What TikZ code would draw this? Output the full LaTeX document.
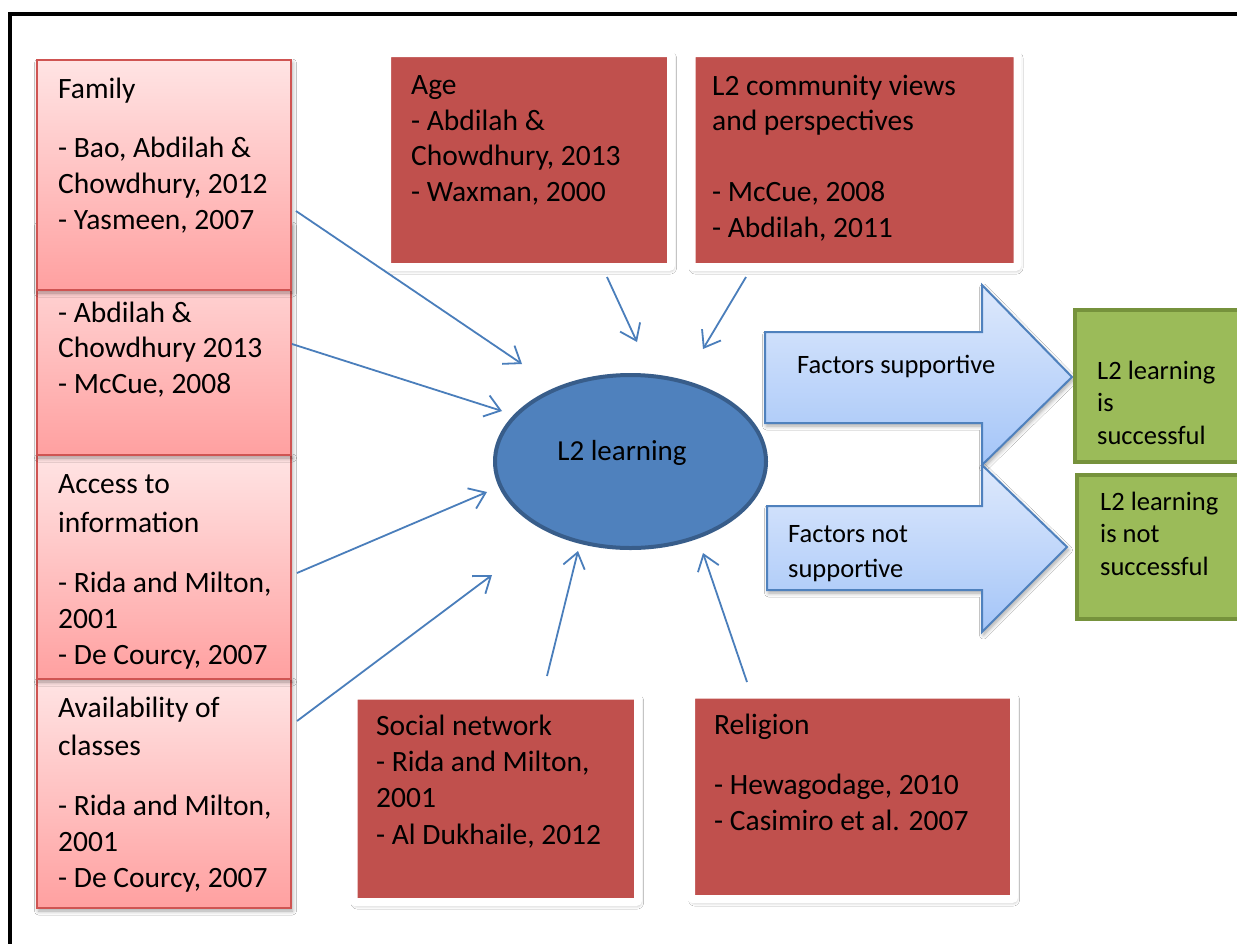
\documentclass[tikz,border=0pt]{standalone}
\usepackage{fontspec}
\setmainfont{Carlito}
\usetikzlibrary{arrows.meta,shadows.blur,shapes.geometric}

\definecolor{pinkTop}{RGB}{255,228,228}
\definecolor{pinkBot}{RGB}{255,160,160}
\definecolor{pinkEdge}{RGB}{207,84,82}
\definecolor{brick}{RGB}{192,80,77}
\definecolor{steel}{RGB}{79,129,189}
\definecolor{steelDark}{RGB}{56,93,138}
\definecolor{link}{RGB}{74,126,187}
\definecolor{skyTop}{RGB}{222,233,252}
\definecolor{skyBot}{RGB}{164,197,248}
\definecolor{olive}{RGB}{155,187,89}
\definecolor{oliveDark}{RGB}{118,146,60}

\begin{document}
\begin{tikzpicture}[x=1pt,y=-1pt,
  softshadow/.style={blur shadow={shadow xshift=1.5pt,shadow yshift=-3pt,
      shadow blur radius=4pt,shadow blur steps=6,shadow opacity=35}},
  pinkbox/.style={rectangle,inner sep=0pt,draw=pinkEdge,line width=1.6pt,
      top color=pinkTop,bottom color=pinkBot,minimum width=254pt,softshadow},
  brickbox/.style={rectangle,inner sep=0pt,draw=white,line width=8pt,
      fill=brick,rounded corners=2pt,softshadow},
  olivebox/.style={rectangle,inner sep=0pt,draw=oliveDark,line width=4pt,fill=olive},
  hubstyle/.style={ellipse,inner sep=0pt,draw=steelDark,line width=4pt,fill=steel,
      minimum width=271pt,minimum height=173pt},
  blockarrow/.style={draw=steel,line width=2pt,top color=skyTop,bottom color=skyBot,
      line join=miter,softshadow},
  % multi-line labels are anchored at the baseline of their last line
  txt/.style={anchor=base west,align=left,inner sep=0pt,
      font=\fontsize{26.5}{32.5}\selectfont},
  bigtxt/.style={txt,font=\fontsize{29.5}{36}\selectfont},
  conn/.style={draw=link,line width=1.8pt,
      -{Straight Barb[length=15pt,width=22pt]}},
]
% canvas and page frame
\useasboundingbox (0,0) rectangle (1237,943);
\fill[white] (0,0) rectangle (1237,943);
\clip (0,0) rectangle (1237,943);
\draw[line width=4.5pt] (10,980) -- (10,14) -- (1270,14);

% left column of factor boxes (later ones overlap earlier ones)
\node[pinkbox,minimum height=229pt] (avail) at (164,793.5) {};
\node[pinkbox,minimum height=224pt] (access) at (164,567) {};
\node[pinkbox,minimum height=232pt] (social2) at (164,339) {};
\node[pinkbox,minimum height=230pt] (family) at (164,175) {};

\node[bigtxt] (familyT) at (58,229)
  {Family\\[23pt]- Bao, Abdilah \&\\Chowdhury, 2012\\- Yasmeen, 2007};
\node[bigtxt,font=\fontsize{29.5}{35.5}\selectfont] (social2T) at (58,393)
  {- Abdilah \&\\Chowdhury 2013\\- McCue, 2008};
\node[bigtxt] (accessT) at (58,664)
  {Access to\\[3pt]information\\[24pt]- Rida and Milton,\\2001\\- De Courcy, 2007};
\node[bigtxt] (availT) at (58,887)
  {Availability of\\[2pt]classes\\[24pt]- Rida and Milton,\\2001\\- De Courcy, 2007};

% top and bottom factor boxes
\node[brickbox,minimum width=284pt,minimum height=214pt] (age) at (529,160) {};
\node[brickbox,minimum width=326pt,minimum height=214pt] (community) at (854.5,160) {};
\node[brickbox,minimum width=284.5pt,minimum height=206.5pt] (network) at (495.75,798.75) {};
\node[brickbox,minimum width=323pt,minimum height=204.5pt] (religion) at (852.5,796.75) {};

\node[bigtxt,font=\fontsize{29.5}{35.5}\selectfont] (ageT) at (411,201)
  {Age\\- Abdilah \&\\Chowdhury, 2013\\- Waxman, 2000};
\node[bigtxt,font=\fontsize{29.5}{35.5}\selectfont] (communityT) at (712,237)
  {L2 community views\\and perspectives\\[35.5pt]- McCue, 2008\\- Abdilah, 2011};
\node[bigtxt,font=\fontsize{29.5}{36.3}\selectfont] (networkT) at (376,844)
  {Social network\\- Rida and Milton,\\2001\\- Al Dukhaile, 2012};
\node[bigtxt] (religionT) at (714,830)
  {Religion\\[24pt]- Hewagodage, 2010\\- Casimiro et al. 2007};

% central ellipse
\node[hubstyle] (hub) at (630.5,461.5) {};
\node[anchor=base,inner sep=0pt,font=\fontsize{29}{35}\selectfont] (hubT) at (622,460) {L2 learning};

% outcome arrows
\path[blockarrow] (765,332) -- (982,332) -- (982,285) -- (1072,377) -- (982,465)
  -- (982,423) -- (765,423) -- cycle;
\path[blockarrow] (767,506) -- (982,506) -- (982,465) -- (1067,547) -- (982,632)
  -- (982,590) -- (767,590) -- cycle;
\node[txt] (supT) at (797,373) {Factors supportive};
\node[txt,font=\fontsize{26.5}{35}\selectfont] (nsupT) at (788,577) {Factors not\\supportive};

% outcome boxes
\node[olivebox,minimum width=185pt,minimum height=152pt] (win) at (1167.5,386) {};
\node[olivebox,minimum width=183pt,minimum height=144pt] (lose) at (1168.5,547) {};
\node[txt] (winT) at (1097,444) {L2 learning\\is\\successful};
\node[txt] (loseT) at (1100,575) {L2 learning\\is not\\successful};

% connector end points
\coordinate (famS) at (296,211);   \coordinate (famE) at (522,364);
\coordinate (soc2S) at (292,344);  \coordinate (soc2E) at (502,411);
\coordinate (accS) at (297,573);   \coordinate (accE) at (487,492);
\coordinate (avS) at (297,721);    \coordinate (avE) at (492,575);
\coordinate (netS) at (547,676);   \coordinate (netE) at (578,551);
\coordinate (relS) at (747,682);   \coordinate (relE) at (703,553);
\coordinate (ageS) at (607,277);   \coordinate (ageE) at (637,342);
\coordinate (comS) at (746,277);   \coordinate (comE) at (703,349);

\draw[conn] (famS) -- (famE);
\draw[conn] (soc2S) -- (soc2E);
\draw[conn] (accS) -- (accE);
\draw[conn] (avS) -- (avE);
\draw[conn] (netS) -- (netE);
\draw[conn] (relS) -- (relE);
\draw[conn] (ageS) -- (ageE);
\draw[conn] (comS) -- (comE);
\end{tikzpicture}
\end{document}
